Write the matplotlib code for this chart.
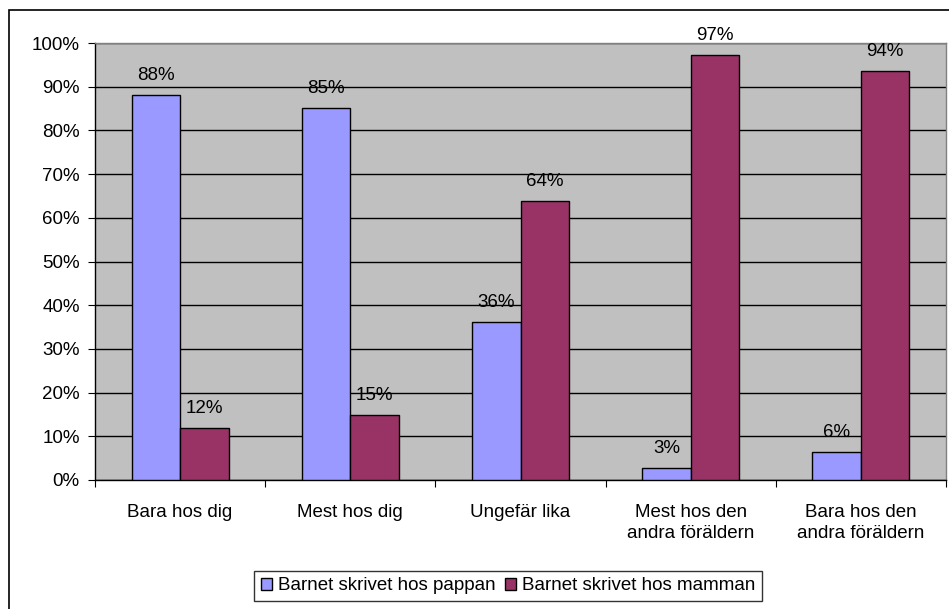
import matplotlib
matplotlib.use("Agg")
import matplotlib.pyplot as plt
from matplotlib.patches import Rectangle
import numpy as np

plt.rcParams['font.family'] = ['Liberation Sans', 'DejaVu Sans']

categories = ["Bara hos dig", "Mest hos dig", "Ungefär lika",
              "Mest hos den\nandra föräldern", "Bara hos den\nandra föräldern"]
pappan = [0.881, 0.851, 0.362, 0.027, 0.064]
mamman = [0.119, 0.149, 0.638, 0.973, 0.936]
series_names = ["Barnet skrivet hos pappan", "Barnet skrivet hos mamman"]
yticks = [0, 0.1, 0.2, 0.3, 0.4, 0.5, 0.6, 0.7, 0.8, 0.9, 1.0]
ytick_labels = ["0%", "10%", "20%", "30%", "40%", "50%", "60%", "70%", "80%", "90%", "100%"]

FS = 13.5
W, H = 949, 609
fig = plt.figure(figsize=(W/100, H/100), dpi=100)
fig.patch.set_facecolor("white")
fig.add_artist(Rectangle((9/W, -0.05), 1.0, 1 - 10/H + 0.05, transform=fig.transFigure,
                         fill=False, edgecolor="black", linewidth=1.2))

ax = fig.add_axes([95/W, 1 - 480/H, 851/W, 437/H])
ax.set_facecolor("#C0C0C0")
x = np.arange(len(categories))
bw = 0.285
b1 = ax.bar(x - bw/2, pappan, bw, color="#9999FF", edgecolor="black", linewidth=1, label=series_names[0], zorder=3)
b2 = ax.bar(x + bw/2, mamman, bw, color="#993366", edgecolor="black", linewidth=1, label=series_names[1], zorder=3)

for bars, vals in ((b1, pappan), (b2, mamman)):
    for rect, v in zip(bars, vals):
        ax.annotate(f"{round(v*100):d}%", (rect.get_x() + rect.get_width()/2, v),
                    xytext=(0, 8), textcoords="offset points", ha="center", va="bottom",
                    fontsize=FS, zorder=4)

ax.set_xlim(-0.5, len(categories) - 0.5)
ax.set_ylim(0, 1.0)
ax.set_yticks(yticks)
ax.set_yticklabels(ytick_labels, fontsize=FS)
ax.yaxis.grid(True, color="black", linewidth=1, zorder=1)
ax.set_axisbelow(True)

ax.set_xticks(np.arange(-0.5, len(categories)))
ax.set_xticklabels([])
ax.set_xticks(x, minor=True)
ax.set_xticklabels(categories, minor=True, fontsize=FS, linespacing=1.35)
ax.tick_params(axis="x", which="minor", length=0, pad=17)
ax.tick_params(axis="x", which="major", direction="out", length=5, color="black")
ax.tick_params(axis="y", direction="out", length=5, color="black", pad=6)

for s in ("left", "bottom"):
    ax.spines[s].set_color("black")
    ax.spines[s].set_linewidth(1)
for s in ("top", "right"):
    ax.spines[s].set_color("#808080")
    ax.spines[s].set_linewidth(1)

leg = fig.legend(handles=[b1, b2], labels=series_names, loc="center",
                 bbox_to_anchor=(508/W, 1 - 586/H), ncol=2, fontsize=FS,
                 frameon=True, fancybox=False, edgecolor="black",
                 handlelength=0.6, handleheight=0.6, handletextpad=0.3,
                 columnspacing=0.5, borderpad=0.35)
leg.get_frame().set_linewidth(1)

fig.savefig("out.png", dpi=100)
